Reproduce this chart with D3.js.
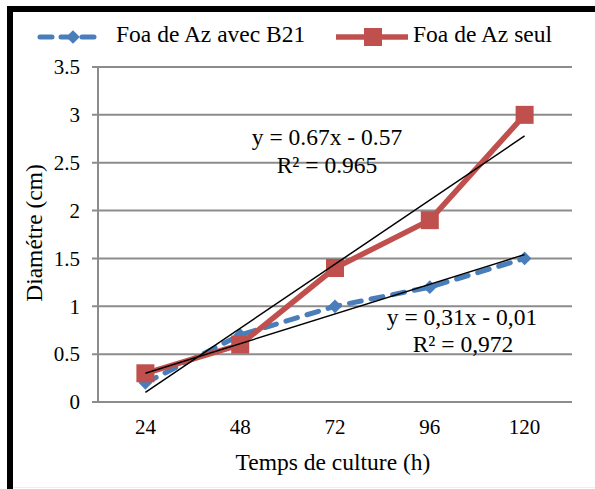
<!DOCTYPE html>
<html><head><meta charset="utf-8">
<script src="https://cdn.jsdelivr.net/npm/d3@7"></script>
<style>body{margin:0;background:#fff}svg{display:block}</style>
</head><body>
<script>
const categories = ["24","48","72","96","120"];
const seriesB21 = [0.2, 0.7, 1.0, 1.2, 1.5];
const seriesSeul = [0.3, 0.6, 1.4, 1.9, 3.0];
const yTicks = [0, 0.5, 1, 1.5, 2, 2.5, 3, 3.5];
const yTickLabels = ["0","0.5","1","1.5","2","2.5","3","3.5"];
const trendSeul = {slope: 0.67, intercept: -0.57, eq: "y = 0.67x - 0.57", r2: "R² = 0.965"};
const trendB21 = {slope: 0.31, intercept: -0.01, eq: "y = 0,31x - 0,01", r2: "R² = 0,972"};
const legendNames = ["Foa de Az avec B21", "Foa de Az seul"];

(function(){
const W = 595, H = 489;
const FONT = "'Liberation Serif', 'Times New Roman', 'DejaVu Serif', serif";
const svg = d3.select("body").append("svg").attr("width", W).attr("height", H)
  .attr("font-family", FONT).style("font-family", FONT);
const pL = 98, pR = 572, pT = 67, pB = 402;

svg.append("line").attr("x1",7).attr("x2",W).attr("y1",9).attr("y2",9).attr("stroke","#000").attr("stroke-width",6);
svg.append("line").attr("x1",10).attr("x2",10).attr("y1",6).attr("y2",H).attr("stroke","#000").attr("stroke-width",6);
svg.append("line").attr("x1",13).attr("x2",W).attr("y1",487.5).attr("y2",487.5).attr("stroke","#eee").attr("stroke-width",1);

const x = d3.scaleBand().domain(categories).range([pL, pR]);
const y = d3.scaleLinear().domain([0, 3.5]).range([pB, pT]);
const xc = d => x(d) + x.bandwidth()/2;

svg.append("g").selectAll("line").data(yTicks).join("line")
  .attr("x1", pL - 6).attr("x2", pR)
  .attr("y1", d => y(d)).attr("y2", d => y(d))
  .attr("stroke", "#8c8c8c").attr("stroke-width", 2);
svg.append("line").attr("x1", pL).attr("x2", pL).attr("y1", pT).attr("y2", pB)
  .attr("stroke", "#8c8c8c").attr("stroke-width", 2);

svg.append("g").selectAll("text").data(yTicks).join("text")
  .attr("x", pL - 18).attr("y", d => y(d)).attr("dy", "0.35em")
  .attr("text-anchor", "end").attr("font-size", 21)
  .text((d, i) => yTickLabels[i]);
svg.append("g").selectAll("text").data(categories).join("text")
  .attr("x", d => xc(d)).attr("y", 434)
  .attr("text-anchor", "middle").attr("font-size", 21).text(d => d);

svg.append("text").attr("x", 333).attr("y", 470).attr("text-anchor", "middle").attr("font-size", 23.5).text("Temps de culture (h)");
svg.append("text").attr("transform", "translate(42,233) rotate(-90)").attr("text-anchor", "middle").attr("font-size", 23.5).text("Diamétre (cm)");

const line = d3.line().x((d, i) => xc(categories[i])).y(d => y(d));
const blue = "#4a7ebb", red = "#c0504d";

svg.append("path").datum(seriesB21).attr("d", line).attr("fill", "none")
  .attr("stroke", blue).attr("stroke-width", 5).attr("stroke-dasharray", "12,10").attr("stroke-linecap", "round");
const diamond = d3.symbol().type(d3.symbolDiamond2).size(120);
svg.append("g").selectAll("path").data(seriesB21).join("path")
  .attr("d", diamond).attr("transform", (d, i) => `translate(${xc(categories[i])},${y(d)})`).attr("fill", blue);

svg.append("path").datum(seriesSeul).attr("d", line).attr("fill", "none")
  .attr("stroke", red).attr("stroke-width", 5.5).attr("stroke-linejoin", "round");
svg.append("g").selectAll("rect").data(seriesSeul).join("rect")
  .attr("x", (d, i) => xc(categories[i]) - 9).attr("y", d => y(d) - 9)
  .attr("width", 18).attr("height", 18).attr("fill", red);

[trendSeul, trendB21].forEach(t => {
  svg.append("line")
    .attr("x1", xc(categories[0])).attr("y1", y(t.slope * 1 + t.intercept))
    .attr("x2", xc(categories[4])).attr("y2", y(t.slope * 5 + t.intercept))
    .attr("stroke", "#000").attr("stroke-width", 1.5);
});

svg.append("text").attr("x", 327).attr("y", 145).attr("text-anchor", "middle").attr("font-size", 23.5).text(trendSeul.eq);
svg.append("text").attr("x", 327).attr("y", 173).attr("text-anchor", "middle").attr("font-size", 23.5).text(trendSeul.r2);
svg.append("text").attr("x", 462).attr("y", 325).attr("text-anchor", "middle").attr("font-size", 23.5).text(trendB21.eq);
svg.append("text").attr("x", 463).attr("y", 352).attr("text-anchor", "middle").attr("font-size", 23.5).text(trendB21.r2);

const lg = svg.append("g");
lg.append("line").attr("x1", 40).attr("x2", 100).attr("y1", 37).attr("y2", 37)
  .attr("stroke", blue).attr("stroke-width", 5).attr("stroke-dasharray", "12,9").attr("stroke-linecap", "round");
lg.append("path").attr("d", diamond).attr("transform", "translate(73,37)").attr("fill", blue);
lg.append("text").attr("x", 116).attr("y", 42).attr("font-size", 23.5).text(legendNames[0]);
lg.append("line").attr("x1", 336).attr("x2", 408).attr("y1", 37).attr("y2", 37).attr("stroke", red).attr("stroke-width", 5.5);
lg.append("rect").attr("x", 364).attr("y", 28).attr("width", 18).attr("height", 18).attr("fill", red);
lg.append("text").attr("x", 413).attr("y", 42).attr("font-size", 23.5).text(legendNames[1]);
})();
</script>
</body></html>
